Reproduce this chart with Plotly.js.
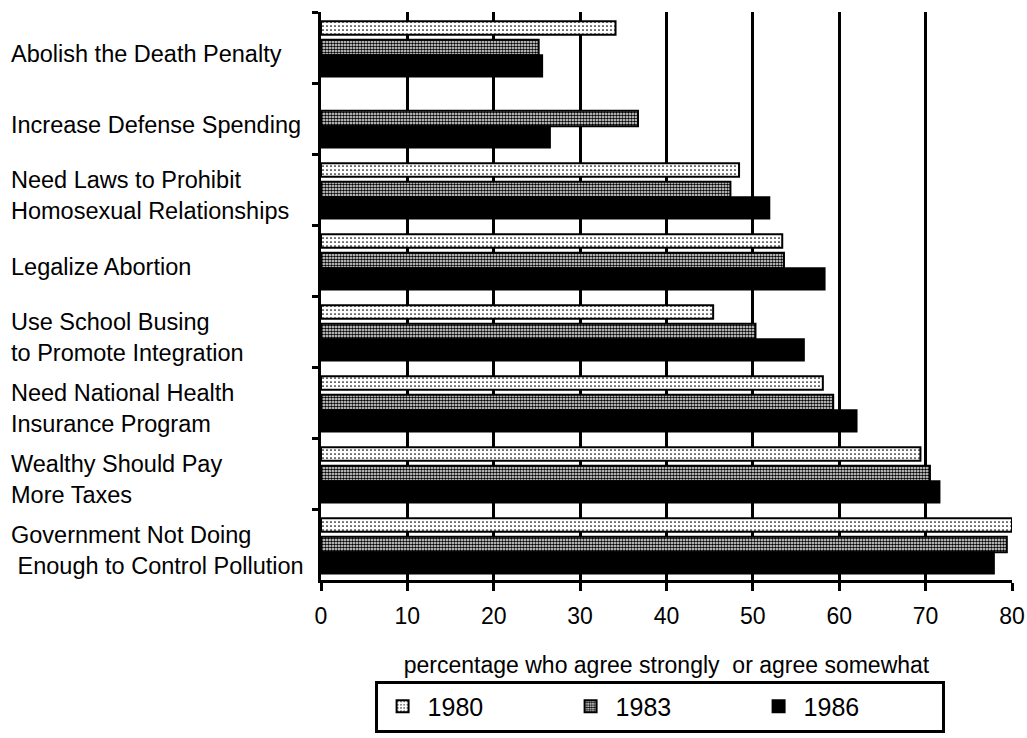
<!DOCTYPE html>
<html>
<head>
<meta charset="utf-8">
<script src="https://cdn.plot.ly/plotly-3.0.1.min.js"></script>
<style>html,body{margin:0;padding:0;background:#fff;}#chart{width:1027px;height:738px;}</style>
</head>
<body>
<div id="chart"></div>
<script>
const categories = [
  "Abolish the Death Penalty",
  "Increase Defense Spending",
  "Need Laws to Prohibit<br>Homosexual Relationships",
  "Legalize Abortion",
  "Use School Busing<br>to Promote Integration",
  "Need National Health<br>Insurance Program",
  "Wealthy Should Pay<br>More Taxes",
  "Government Not Doing<br>\u00a0Enough to Control Pollution"
];
const seriesNames = ["1980", "1983", "1986"];
const values1980 = [34.1, null, 48.4, 53.4, 45.4, 58.1, 69.4, 80.0];
const values1983 = [25.2, 36.7, 47.4, 53.6, 50.3, 59.3, 70.5, 79.4];
const values1986 = [25.6, 26.5, 51.9, 58.3, 55.9, 62.0, 71.6, 77.9];
const xTicks = [0, 10, 20, 30, 40, 50, 60, 70, 80];
const xTitle = "percentage who agree strongly\u00a0 or agree somewhat";

const FONT = '"Liberation Sans", Arial, Helvetica, sans-serif';

const styles = [
  {color: "#ffffff", pattern: {shape: ".", fgcolor: "#000", bgcolor: "#fff", size: 4, solidity: 0.15}, offset: -0.37, width: 0.19},
  {color: "#ffffff", pattern: {shape: ".", fgcolor: "#000", bgcolor: "#fff", size: 3, solidity: 0.6}, offset: -0.11, width: 0.22},
  {color: "#000000", pattern: null, offset: 0.11, width: 0.30}
];
const allValues = [values1980, values1983, values1986];

const traces = seriesNames.map((name, i) => {
  const s = styles[i];
  const marker = {color: s.color, line: {color: "#000", width: 2}};
  if (s.pattern) marker.pattern = s.pattern;
  return {
    type: "bar",
    orientation: "h",
    name: name,
    y: categories,
    x: allValues[i],
    offset: s.offset,
    width: s.width,
    marker: marker,
    hoverinfo: "x+name"
  };
});

const annotations = categories.map(c => ({
  xref: "paper", yref: "y",
  x: (9 - 321) / 691, y: c,
  xanchor: "left", yanchor: "middle", align: "left",
  yshift: -6,
  text: c, showarrow: false,
  font: {family: FONT, size: 23.5, color: "#000"}
}));

const layout = {
  width: 1027, height: 738,
  margin: {l: 321, r: 15, t: 12, b: 158, autoexpand: false},
  paper_bgcolor: "#fff", plot_bgcolor: "#fff",
  font: {family: FONT, size: 23, color: "#000"},
  barmode: "overlay",
  showlegend: true,
  legend: {
    orientation: "h",
    x: 0.49, xanchor: "center",
    y: -0.177, yanchor: "top",
    bordercolor: "#000", borderwidth: 3,
    font: {family: FONT, size: 25, color: "#000"},
    entrywidth: 133,
    itemwidth: 40,
    traceorder: "normal"
  },
  xaxis: {
    range: [0, 80],
    tickvals: xTicks,
    ticktext: xTicks.map(String),
    showgrid: true, gridcolor: "#000", gridwidth: 3,
    zeroline: false,
    showline: true, linecolor: "#000", linewidth: 3,
    ticks: "outside", ticklen: 8, tickwidth: 3, tickcolor: "#000",
    ticklabelstandoff: 5,
    tickfont: {family: FONT, size: 23, color: "#000"},
    title: {text: xTitle, font: {family: FONT, size: 23, color: "#000"}, standoff: 30},
    automargin: false,
    fixedrange: true
  },
  yaxis: {
    type: "category",
    autorange: false,
    range: [7.5, -0.5],
    categoryorder: "array",
    categoryarray: categories,
    tickson: "boundaries",
    showticklabels: false,
    ticks: "outside", ticklen: 6, tickwidth: 3, tickcolor: "#000",
    showgrid: false, zeroline: false,
    showline: true, linecolor: "#000", linewidth: 3,
    automargin: false,
    fixedrange: true
  },
  annotations: annotations
};

Plotly.newPlot("chart", traces, layout, {displayModeBar: false, staticPlot: true});
</script>
</body>
</html>
